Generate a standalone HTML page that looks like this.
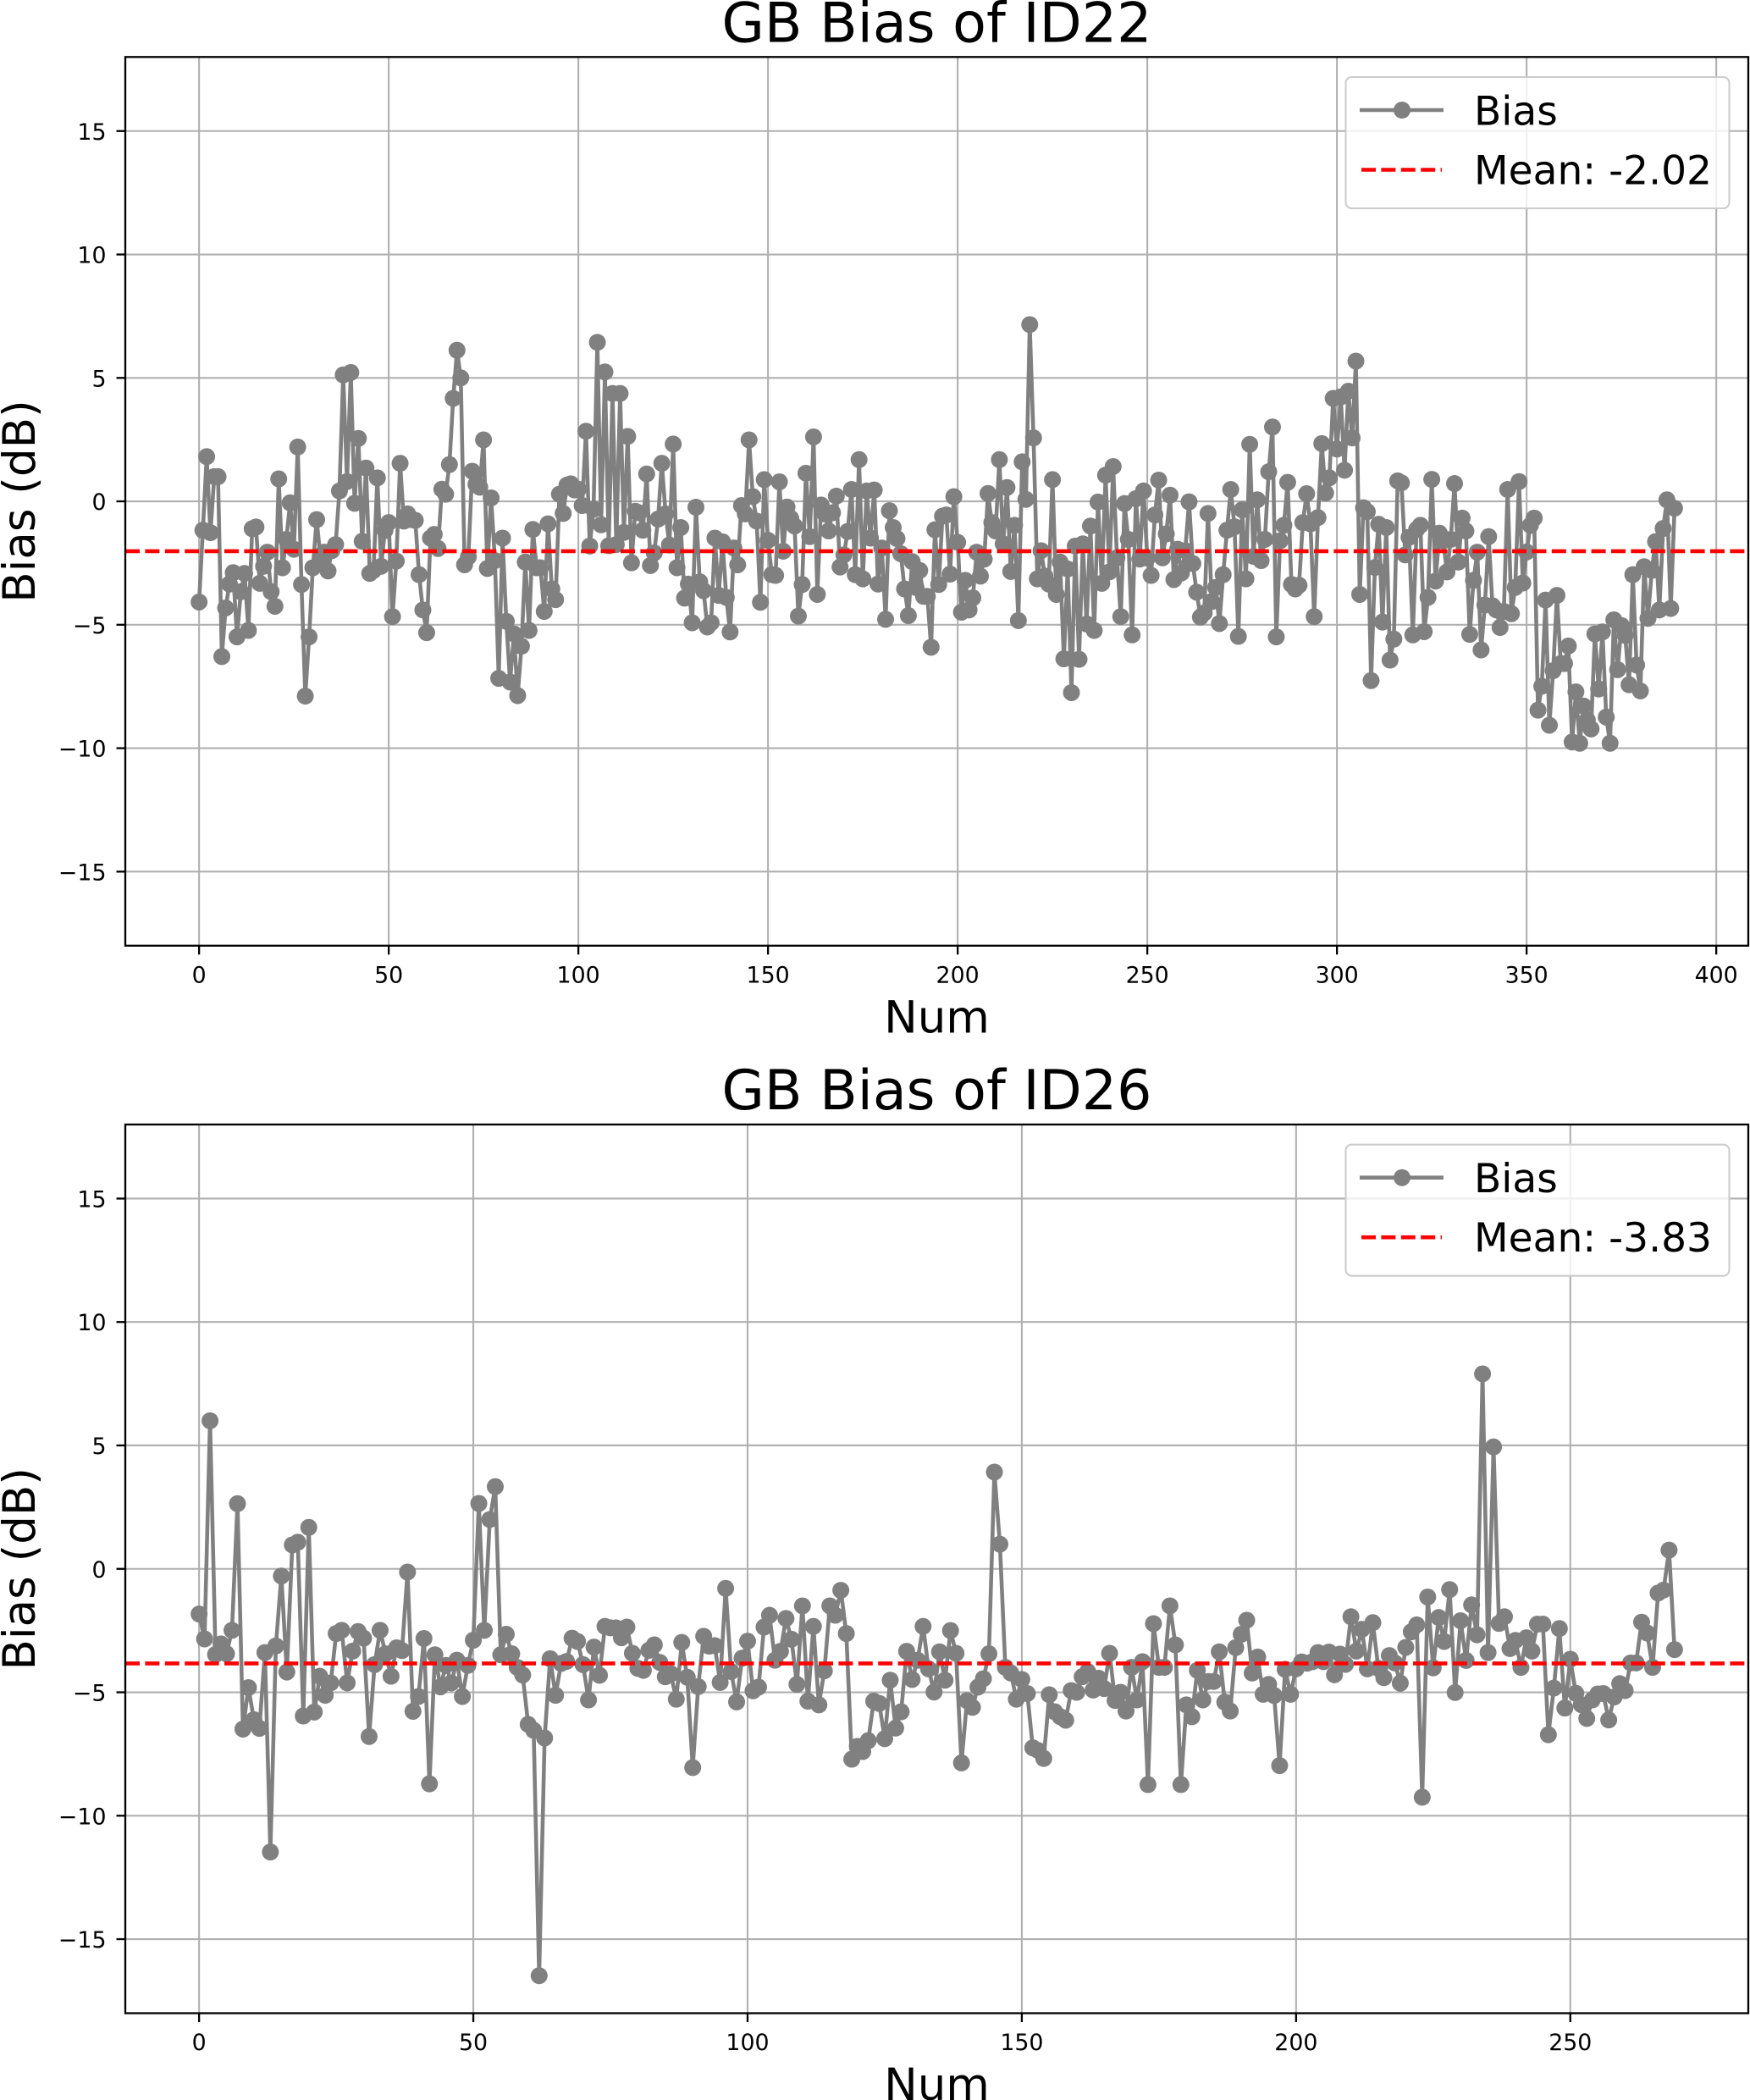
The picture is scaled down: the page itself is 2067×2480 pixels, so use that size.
<!DOCTYPE html>
<html>
<head>
<meta charset="utf-8">
<title>GB Bias of ID22 and ID26</title>
<style>
html,body{margin:0;padding:0;background:#fff;width:2067px;height:2480px;overflow:hidden}
svg{display:block}
text{font-family:"DejaVu Sans","Liberation Sans",sans-serif;fill:#000}
</style>
</head>
<body>
<svg id="figure" xmlns="http://www.w3.org/2000/svg" width="2067" height="2480" viewBox="0 0 2067 2480"></svg>
<script>
const biasID22 = [
-4.08,-1.17,1.81,-1.27,1.0,1.0,-6.29,-4.32,-3.35,-2.89,
-5.49,-3.66,-2.92,-5.23,-1.11,-1.04,-3.32,-2.63,-2.06,-3.66,
-4.25,0.91,-2.69,-1.54,-0.06,-1.94,2.2,-3.37,-7.89,-5.49,
-2.69,-0.74,-2.3,-2.06,-2.82,-2.0,-1.75,0.42,5.12,0.8,
5.22,-0.08,2.55,-1.62,1.35,-2.92,-2.8,0.95,-2.63,-1.18,
-0.86,-4.67,-2.42,1.54,-0.8,-0.51,-0.74,-0.77,-2.97,-4.4,
-5.32,-1.49,-1.34,-1.91,0.49,0.29,1.49,4.17,6.12,5.0,
-2.57,-2.25,1.22,0.69,0.57,2.49,-2.72,0.14,-2.4,-7.17,
-1.49,-4.86,-7.32,-5.37,-7.87,-5.87,-2.46,-5.23,-1.14,-2.69,
-2.69,-4.46,-0.91,-3.55,-3.98,0.29,-0.49,0.66,0.71,0.46,
0.49,-0.17,2.84,-1.81,-0.32,6.44,-0.95,5.24,-1.8,4.37,
-1.75,4.37,-1.26,2.63,-2.49,-0.4,-0.46,-1.17,1.11,-2.6,
-2.09,-0.72,1.54,-0.51,-1.77,2.32,-2.69,-1.06,-3.92,-3.35,
-4.92,-0.24,-3.26,-3.62,-5.09,-4.92,-1.49,-3.81,-1.64,-3.89,
-5.29,-1.89,-2.57,-0.17,-0.51,2.49,0.19,-0.8,-4.09,0.88,
-1.58,-2.97,-3.0,0.79,-2.02,-0.23,-0.69,-1.0,-4.65,-3.37,
1.14,-1.43,2.61,-3.77,-0.15,-0.51,-1.2,-0.46,0.21,-2.66,
-2.17,-1.22,0.48,-2.97,1.69,-3.14,0.42,-1.49,0.46,-3.35,
-1.89,-4.78,-0.38,-1.06,-1.51,-2.12,-3.55,-4.63,-2.44,-3.49,
-2.8,-3.85,-3.85,-5.91,-1.15,-3.37,-0.6,-0.55,-2.95,0.19,
-1.66,-4.49,-3.2,-4.4,-3.91,-2.06,-3.03,-2.34,0.32,-0.86,
-1.2,1.69,-1.72,0.56,-2.84,-0.97,-4.83,1.6,0.08,7.16,
2.57,-3.14,-2.0,-3.03,-3.35,0.88,-3.77,-2.46,-6.38,-2.74,
-7.75,-1.81,-6.4,-1.72,-4.97,-1.0,-5.23,-0.03,-3.32,1.06,
-2.86,1.41,-2.29,-4.67,-0.09,-1.54,-5.41,0.11,-2.34,0.42,
-2.3,-3.0,-0.55,0.86,-2.29,-1.32,0.25,-3.17,-1.94,-2.9,
-2.0,-0.02,-2.52,-3.68,-4.69,-4.52,-0.49,-4.06,-3.49,-4.95,
-2.97,-1.17,0.48,-1.03,-5.47,-0.34,-3.14,2.31,-2.23,0.06,
-2.4,-1.54,1.2,3.01,-5.49,-1.6,-0.97,0.77,-3.37,-3.55,
-3.4,-0.86,0.31,-0.91,-4.67,-0.66,2.34,0.34,0.95,4.17,
2.12,4.23,1.26,4.46,2.57,5.68,-3.77,-0.26,-0.42,-7.26,
-2.68,-0.93,-4.89,-1.06,-6.43,-5.58,0.83,0.75,-2.17,-1.46,
-5.41,-1.14,-0.97,-5.28,-3.89,0.89,-3.23,-1.29,-1.6,-2.86,
-1.54,0.72,-2.46,-0.68,-1.2,-5.39,-3.2,-2.06,-6.02,-4.2,
-1.43,-4.23,-4.4,-5.11,-4.46,0.48,-4.55,-3.49,0.8,-3.31,
-2.05,-0.97,-0.68,-8.46,-7.49,-4.0,-9.07,-6.86,-3.81,-6.57,
-6.57,-5.86,-9.75,-7.72,-9.8,-8.29,-8.86,-9.22,-5.37,-7.6,
-5.29,-8.74,-9.8,-4.8,-6.82,-5.03,-5.43,-7.43,-2.97,-6.63,
-7.68,-2.65,-4.74,-2.8,-1.63,-4.4,-1.1,0.06,-4.34,-0.28
];
const biasID26 = [
-1.83,-2.84,6.0,-3.47,-3.04,-3.44,-2.49,2.64,-6.49,-4.81,
-6.11,-6.46,-3.39,-11.47,-3.12,-0.29,-4.18,0.97,1.08,-5.96,
1.68,-5.8,-4.35,-5.12,-4.62,-2.62,-2.49,-4.62,-3.33,-2.54,
-2.81,-6.79,-3.88,-2.49,-3.44,-4.35,-3.2,-3.31,-0.13,-5.77,
-5.17,-2.82,-8.71,-3.48,-4.78,-3.91,-4.62,-3.7,-5.17,-3.91,
-2.89,2.65,-2.49,2.0,3.33,-3.48,-2.65,-3.44,-3.99,-4.3,
-6.3,-6.54,-16.48,-6.85,-3.64,-5.12,-3.83,-3.75,-2.81,-2.94,
-3.88,-5.31,-3.17,-4.31,-2.33,-2.39,-2.39,-2.79,-2.36,-3.42,
-4.03,-4.11,-3.3,-3.08,-3.79,-4.37,-4.25,-5.28,-2.98,-4.39,
-8.05,-4.77,-2.73,-3.13,-3.11,-4.6,-0.79,-4.16,-5.39,-3.62,
-2.93,-4.94,-4.79,-2.36,-1.88,-3.7,-3.34,-2.01,-2.85,-4.68,
-1.5,-5.36,-2.33,-5.51,-4.13,-1.5,-1.88,-0.87,-2.62,-7.71,
-7.19,-7.4,-6.96,-5.36,-5.45,-6.88,-4.51,-6.45,-5.79,-3.34,
-4.48,-3.7,-2.33,-4.05,-4.99,-3.36,-4.51,-2.5,-3.42,-7.86,
-5.34,-5.61,-4.79,-4.45,-3.44,3.92,1.0,-3.99,-4.22,-5.28,
-4.48,-5.05,-7.25,-7.36,-7.68,-5.1,-5.79,-5.99,-6.13,-4.93,
-5.0,-4.37,-4.16,-4.91,-4.43,-4.85,-3.42,-5.33,-5.0,-5.76,
-3.99,-5.31,-3.76,-8.74,-2.22,-3.99,-3.99,-1.5,-3.08,-8.74,
-5.51,-5.99,-4.11,-5.31,-4.56,-4.56,-3.36,-5.4,-5.76,-3.19,
-2.65,-2.08,-4.22,-3.57,-5.08,-4.68,-5.13,-7.97,-4.07,-5.08,
-4.05,-3.77,-3.82,-3.76,-3.39,-3.76,-3.37,-4.29,-3.45,-3.87,
-1.94,-3.33,-2.45,-4.05,-2.18,-4.03,-4.41,-3.51,-3.81,-4.63,
-3.18,-2.55,-2.27,-9.25,-1.14,-4.01,-1.97,-2.94,-0.84,-5.01,
-2.1,-3.71,-1.46,-2.67,7.9,-3.39,4.94,-2.21,-1.94,-3.23,
-2.9,-3.99,-2.79,-3.33,-2.24,-2.24,-6.72,-4.83,-2.42,-5.64,
-3.66,-5.04,-5.5,-6.06,-5.31,-5.07,-5.05,-6.12,-5.19,-4.65,
-4.93,-3.81,-3.81,-2.16,-2.6,-3.99,-0.98,-0.86,0.76,-3.27
];
const meanID22 = -2.02;
const meanID26 = -3.83;
const xTicksID22 = [0, 50, 100, 150, 200, 250, 300, 350, 400];
const xTicksID26 = [0, 50, 100, 150, 200, 250];
const yTicks = [-15, -10, -5, 0, 5, 10, 15];
const titleID22 = "GB Bias of ID22";
const titleID26 = "GB Bias of ID26";
const seriesLabel = "Bias";
const xAxisLabel = "Num";
const yAxisLabel = "Bias (dB)";

const NS = "http://www.w3.org/2000/svg";
const fig = document.getElementById("figure");

function mk(parent, tag, attrs, txt) {
  const el = document.createElementNS(NS, tag);
  for (const k in attrs) el.setAttribute(k, attrs[k]);
  if (txt !== undefined) el.textContent = txt;
  parent.appendChild(el);
  return el;
}

function drawChart(cfg) {
  const L = 148, R = 2065, T = cfg.top, B = cfg.top + 1049.5;
  const n = cfg.values.length;
  const margin = (n - 1) * 0.05;
  const xMin = -margin, xMax = n - 1 + margin;
  const yMin = -18, yMax = 18;
  const xScale = v => L + (v - xMin) / (xMax - xMin) * (R - L);
  const yScale = v => B - (v - yMin) / (yMax - yMin) * (B - T);

  const g = mk(fig, "g", {});
  
  

  const bg = mk(g, "rect", {x: L, y: T, width: R - L, height: B - T, fill: "#fff"});
  
  

  const clipId = "clip-" + cfg.id;
  const defs = mk(g, "defs", {});
  const cp = mk(defs, "clipPath", {id: clipId});
  mk(cp, "rect", {x: L, y: T, width: R - L, height: B - T});

  cfg.xTicks.forEach(t => {
    const gl = mk(g, "line", {x1: xScale(t), x2: xScale(t), y1: T, y2: B, stroke: "#b0b0b0", "stroke-width": 2.1});
    
    
  });
  yTicks.forEach(t => {
    const gl = mk(g, "line", {x1: L, x2: R, y1: yScale(t), y2: yScale(t), stroke: "#b0b0b0", "stroke-width": 2.1});
    
    
  });

  const plot = mk(g, "g", {"clip-path": "url(#" + clipId + ")"});
  
  

  const d = cfg.values.map((v, i) => (i ? "L" : "M") + xScale(i).toFixed(2) + " " + yScale(v).toFixed(2)).join("");
  const line = mk(plot, "path", {d: d, fill: "none", stroke: "#808080", "stroke-width": 4.6, "stroke-linejoin": "round"});
  
  

  cfg.values.forEach((v, i) => {
    const c = mk(plot, "circle", {cx: xScale(i).toFixed(2), cy: yScale(v).toFixed(2), r: 10, fill: "#808080"});
    
    
  });

  const meanLine = mk(plot, "line", {x1: L, x2: R, y1: yScale(cfg.mean), y2: yScale(cfg.mean), stroke: "#ff0000", "stroke-width": 4.6, "stroke-dasharray": "17 6.4"});
  
  

  const frame = mk(g, "rect", {x: L, y: T, width: R - L, height: B - T, fill: "none", stroke: "#000", "stroke-width": 2.3});
  
  

  cfg.xTicks.forEach(t => {
    const tk = mk(g, "line", {x1: xScale(t), x2: xScale(t), y1: B, y2: B + 10.5, stroke: "#000", "stroke-width": 2.3});
    
    
    const lb = mk(g, "text", {x: xScale(t), y: B + 43.5, "text-anchor": "middle", "font-size": 26.8}, String(t));
    
    
  });
  yTicks.forEach(t => {
    const tk = mk(g, "line", {x1: L - 10.5, x2: L, y1: yScale(t), y2: yScale(t), stroke: "#000", "stroke-width": 2.3});
    
    
    const lb = mk(g, "text", {x: L - 22.5, y: yScale(t) + 10, "text-anchor": "end", "font-size": 26.8}, (t < 0 ? "\u2212" : "") + Math.abs(t));
    
    
  });

  const title = mk(g, "text", {x: (L + R) / 2, y: T - 18, "text-anchor": "middle", "font-size": 65}, cfg.title);
  
  

  const xl = mk(g, "text", {x: (L + R) / 2, y: B + 102.5, "text-anchor": "middle", "font-size": 53}, xAxisLabel);
  
  

  const yMid = (T + B) / 2;
  const yl = mk(g, "text", {x: 41, y: yMid, "text-anchor": "middle", "font-size": 53, transform: "rotate(-90 41 " + yMid + ")"}, yAxisLabel);
  
  

  const leg = mk(g, "g", {transform: "translate(0 " + (T - 67.3) + ")"});
  
  
  const box = mk(leg, "rect", {x: 1589.5, y: 91, width: 453, height: 155, rx: 7, ry: 7, fill: "#fff", "fill-opacity": 0.8, stroke: "#cccccc", "stroke-width": 2.1});
  
  
  const h1 = mk(leg, "line", {x1: 1606, x2: 1705, y1: 130, y2: 130, stroke: "#808080", "stroke-width": 4.6});
  
  
  const h1c = mk(leg, "circle", {cx: 1656, cy: 130, r: 10, fill: "#808080"});
  
  
  const t1 = mk(leg, "text", {x: 1741, y: 147.5, "font-size": 47.1}, seriesLabel);
  
  
  const h2 = mk(leg, "line", {x1: 1608, x2: 1703, y1: 200.5, y2: 200.5, stroke: "#ff0000", "stroke-width": 4.6, "stroke-dasharray": "17 6.4"});
  
  
  const t2 = mk(leg, "text", {x: 1741, y: 217.5, "font-size": 47.1}, "Mean: " + cfg.mean.toFixed(2));
  
  
}

drawChart({id: "id22", top: 67.3, values: biasID22, mean: meanID22, xTicks: xTicksID22, title: titleID22});
drawChart({id: "id26", top: 1328, values: biasID26, mean: meanID26, xTicks: xTicksID26, title: titleID26});
</script>
</body>
</html>
